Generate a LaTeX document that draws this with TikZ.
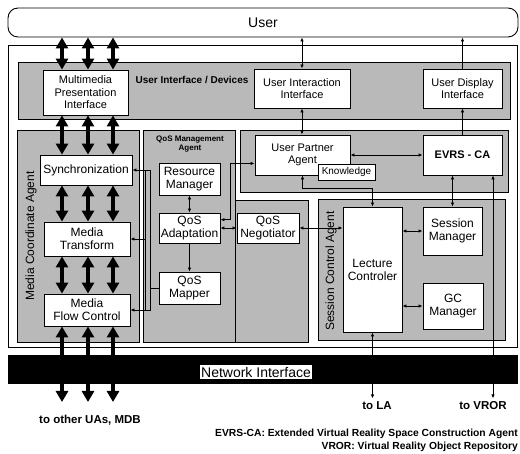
\documentclass[tikz,border=0pt]{standalone}
\usepackage{fontspec}
\setmainfont{Liberation Sans}
\usetikzlibrary{arrows.meta}

\begin{document}
\begin{tikzpicture}[x=1pt, y=-1pt, >={Latex[length=4pt,width=3.5pt]},
    box/.style={draw, fill=white, line width=0.9pt, align=center, inner sep=1pt, font=\fontsize{12}{13}\selectfont},
    uibox/.style={box, font=\fontsize{11}{12.5}\selectfont},
    agentarea/.style={draw, fill=gray!55, line width=0.6pt},
    conn/.style={line width=0.8pt},
    bigarrow/.style={line width=3.5pt, {Triangle[width=12pt,length=11pt]}-{Triangle[width=12pt,length=11pt]}},
    arealabel/.style={font=\bfseries\fontsize{10}{11}\selectfont},
    bottomlabel/.style={font=\bfseries\fontsize{11.5}{13}\selectfont}]

    \useasboundingbox (0,0) rectangle (520,454);

    % User on top
    \node[draw, rounded corners=10pt, line width=0.9pt, minimum width=510pt, minimum height=29pt, font=\fontsize{14}{16}\selectfont] (user) at (263,22.5) {User};

    % Outer frame of the user agent
    \draw[line width=0.8pt] (8,45) rectangle (517,347);

    % Shaded agent areas
    \draw[agentarea] (18,62) rectangle (510,119);   % user interface / devices
    \draw[agentarea] (240,130) rectangle (508,192); % user partner
    \draw[agentarea] (17,130) rectangle (139,342);  % media coordinate agent
    \draw[agentarea] (143,130) rectangle (235,342); % QoS management agent
    \draw[agentarea] (235,200) rectangle (308,342); % negotiation
    \draw[agentarea] (318,199) rectangle (505,340); % session control agent

    % Area labels
    \node[arealabel] (uilabel) at (192,80) {User Interface / Devices};
    \node[arealabel, font=\bfseries\fontsize{8}{9}\selectfont, align=center] (qoslabel) at (190,144) {QoS Management\\Agent};
    \node[rotate=90, font=\fontsize{12}{14}\selectfont] (mcalabel) at (31,236) {Media Coordinate Agent};
    \node[rotate=90, font=\fontsize{12}{14}\selectfont] (scalabel) at (331,271) {Session Control Agent};

    % Bus from the QoS mapper to the media agent
    \node[draw, line width=0.6pt, minimum width=5pt, minimum height=140pt, inner sep=0pt] (bus) at (147.5,240) {};

    % Interface boxes
    \node[uibox, minimum width=85pt, minimum height=45pt] (mpi) at (85.5,92.5) {Multimedia\\Presentation\\Interface};
    \node[uibox, minimum width=96pt, minimum height=39pt] (uii) at (302,88.5) {User Interaction\\Interface};
    \node[uibox, minimum width=79pt, minimum height=39pt] (udi) at (462.5,88.5) {User Display\\Interface};

    % User partner and EVRS-CA
    \node[uibox, minimum width=95pt, minimum height=40pt] (upa) at (302.5,155) {User Partner\\Agent};
    \node[box, font=\fontsize{10}{11}\selectfont, minimum width=57pt, minimum height=16pt] (know) at (346.5,172) {Knowledge};
    \node[box, font=\bfseries\fontsize{11}{13}\selectfont, minimum width=79pt, minimum height=40pt] (evrs) at (462.5,155) {EVRS - CA};

    % Media coordinate agent
    \node[box, minimum width=92pt, minimum height=30pt] (sync) at (86,170) {Synchronization};
    \node[box, minimum width=86pt, minimum height=34pt] (mt) at (87,239) {Media\\Transform};
    \node[box, minimum width=86pt, minimum height=32pt] (mfc) at (87,310) {Media\\Flow Control};

    % QoS management agent
    \node[box, minimum width=61pt, minimum height=32pt] (rm) at (189.5,179) {Resource\\Manager};
    \node[box, minimum width=61pt, minimum height=30pt] (qa) at (189.5,228) {QoS\\Adaptation};
    \node[box, minimum width=61pt, minimum height=32pt] (qm) at (189.5,288) {QoS\\Mapper};
    \node[box, minimum width=62pt, minimum height=30pt] (qn) at (268,228) {QoS\\Negotiator};

    % Session control agent
    \node[box, minimum width=59pt, minimum height=125pt] (lc) at (372.5,269.5) {Lecture\\Controler};
    \node[box, minimum width=59pt, minimum height=48pt] (sm) at (452.5,231) {Session\\Manager};
    \node[box, minimum width=60pt, minimum height=46pt] (gc) at (453,306) {GC\\Manager};

    % Network interface band
    \node[fill=black, minimum width=510pt, minimum height=29pt, inner sep=0pt] (net) at (263,369.5) {};
    \node[fill=white, inner sep=1pt, minimum height=14pt, font=\fontsize{14}{16}\selectfont] (netlabel) at (256,372) {Network Interface};

    % Bottom labels
    \node[bottomlabel] (others) at (90,420) {to other UAs, MDB};
    \node[bottomlabel] (la) at (377,406) {to LA};
    \node[bottomlabel] (vrorlabel) at (483,406) {to VROR};
    \coordinate (uaend) at (0,402);

    % Media streams
    \foreach \x in {62,88,113} {
        \draw[bigarrow] (\x,0 |- user.south) -- (\x,0 |- mpi.north);
        \draw[bigarrow] (\x,0 |- mpi.south) -- (\x,0 |- sync.north);
        \draw[bigarrow] (\x,0 |- sync.south) -- (\x,0 |- mt.north);
        \draw[bigarrow] (\x,0 |- mt.south) -- (\x,0 |- mfc.north);
        \draw[bigarrow] (\x,0 |- mfc.south) -- (\x,0 |- uaend);
    }

    % Control connectors
    \draw[conn, <->] (uii.north) -- (uii.north |- user.south);
    \draw[conn, ->] (udi.north) -- (udi.north |- user.south);
    \draw[conn, ->] (evrs.north) -- (udi.south);
    \draw[conn, <->] (uii.south) -- (uii.south |- upa.north);
    \draw[conn, <->] (upa.east) -- (evrs.west);
    \draw[conn, <->] (upa.south) -- ++(0,13) -| (lc.north);
    \draw[conn, <->] (qa.15) -- ++(10,0) |- (upa.190);
    \draw[conn, <->] (rm.south) -- (qa.north);
    \draw[conn, ->] (qa.south) -- (qm.north);
    \draw[conn, <->] (qa.east) -- (qn.west);
    \draw[conn, <->] (qn.east) -- (qn.east -| lc.west);
    \draw[conn, <->] (sm.west -| lc.east) -- (sm.west);
    \draw[conn, <->] (gc.west -| lc.east) -- (gc.west);
    \draw[conn, <->] (sm.north |- evrs.south) -- (sm.north);

    % QoS mapper to the media boxes
    \foreach \dest in {sync, mt, mfc} {
        \draw[conn, ->] (\dest.east -| bus.west) -- (\dest.east);
    }
    \draw[conn] (qm.west) -- (qm.west -| bus.east);

    % Links leaving the user agent
    \draw[conn, <->] (lc.south) -- (lc.south |- la.north);
    \draw[conn, <->] (493,0 |- evrs.south) -- (493,0 |- vrorlabel.north);

    % Legend
    \node[anchor=north east, align=right, inner sep=0pt, font=\bfseries\fontsize{10.3}{13}\selectfont] (legend) at (518,429) {EVRS-CA: Extended Virtual Reality Space Construction Agent\\VROR: Virtual Reality Object Repository};

\end{tikzpicture}
\end{document}
